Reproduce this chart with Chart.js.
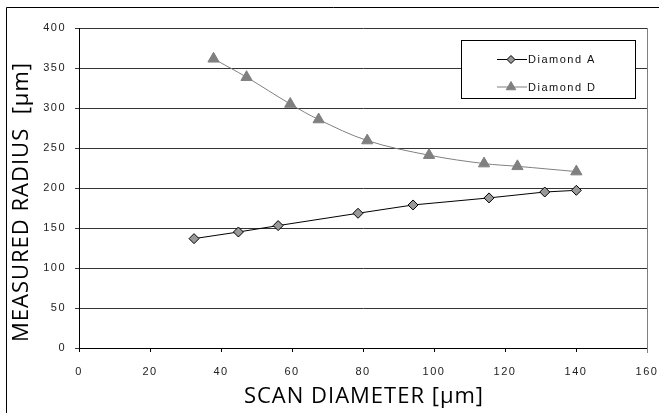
<!DOCTYPE html>
<html><head><meta charset="utf-8">
<script src="https://cdn.jsdelivr.net/npm/chart.js@4/dist/chart.umd.min.js"></script>
<style>html,body{margin:0;padding:0;background:#fff;}</style>
</head><body>
<canvas id="c" width="659" height="413" style="display:block"></canvas>
<script>
const seriesNames = ['Diamond A', 'Diamond D'];
const diamondA_x = [32.4, 44.9, 56.1, 78.6, 94.1, 115.5, 131.2, 140.1];
const diamondA_y = [136.7, 145, 153, 168.4, 178.8, 187.6, 195, 197.1];
const diamondD_x = [37.9, 47.2, 59.5, 67.5, 81.2, 98.6, 114.1, 123.5, 140.1];
const diamondD_y = [361.5, 338.5, 305, 285.6, 259.3, 241, 230.5, 227.1, 220.5];
const xTicks = [0, 20, 40, 60, 80, 100, 120, 140, 160];
const yTicks = [0, 50, 100, 150, 200, 250, 300, 350, 400];
const xTitle = 'SCAN DIAMETER [\u03bcm]';
const yTitle = 'MEASURED RADIUS  [\u03bcm]';

const toPts = (xs, ys) => xs.map((x, i) => ({x: x, y: ys[i]}));
const tickFont = {family: '"Liberation Sans", Arial, sans-serif', size: 11};

const framePlugin = {
  id: 'frame',
  beforeDraw(chart) { chart.ctx.letterSpacing = '1.5px'; },
  beforeDatasetsDraw(chart) {
    const ctx = chart.ctx, a = chart.chartArea;
    ctx.save();
    ctx.strokeStyle = '#808080'; ctx.lineWidth = 1;
    ctx.beginPath();
    ctx.moveTo(Math.round(a.right) + 0.5, a.top);
    ctx.lineTo(Math.round(a.right) + 0.5, a.bottom + 5);
    ctx.stroke();
    ctx.restore();
  },
  afterDraw(chart) {
    const ctx = chart.ctx, a = chart.chartArea;
    ctx.save();
    ctx.letterSpacing = '0px';
    ctx.strokeStyle = '#000'; ctx.lineWidth = 1;
    ctx.beginPath();
    ctx.moveTo(6.5, 420); ctx.lineTo(6.5, 7.5); ctx.lineTo(670, 7.5);
    ctx.stroke();
    // legend
    const lx = 461.5, ly = 40.5, lw = 174, lh = 58;
    ctx.fillStyle = '#fff';
    ctx.fillRect(lx, ly, lw, lh);
    ctx.strokeStyle = '#000';
    ctx.strokeRect(lx, ly, lw, lh);
    const rows = [
      {y: 59, line: '#000', fill: '#999999', stroke: '#000', style: 'rectRot', r: 4},
      {y: 86.5, line: '#808080', fill: '#808080', stroke: '#808080', style: 'triangle', r: 5.5}
    ];
    rows.forEach((r, i) => {
      ctx.letterSpacing = '0px';
      ctx.strokeStyle = r.line; ctx.lineWidth = 1;
      ctx.beginPath(); ctx.moveTo(497, r.y + 0.5); ctx.lineTo(527, r.y + 0.5); ctx.stroke();
      ctx.fillStyle = r.fill; ctx.strokeStyle = r.stroke;
      Chart.helpers.drawPoint(ctx, {pointStyle: r.style, radius: r.r, borderWidth: 1, rotation: 0}, 511, r.y + 0.5);
      ctx.letterSpacing = '1.5px';
      ctx.fillStyle = '#111';
      ctx.font = '11px "Liberation Sans", Arial, sans-serif';
      ctx.textBaseline = 'middle'; ctx.textAlign = 'left';
      ctx.fillText(seriesNames[i], 528, r.y + 1);
    });
    // axis titles
    ctx.letterSpacing = '1px';
    ctx.fillStyle = '#000';
    ctx.font = '22px "Open Sans", sans-serif';
    ctx.textAlign = 'center'; ctx.textBaseline = 'middle';
    ctx.fillText(xTitle, (a.left + a.right) / 2 + 1, 397);
    ctx.translate(22, 202);
    ctx.rotate(-Math.PI / 2);
    ctx.fillText(yTitle, 0, 0);
    ctx.restore();
  }
};

new Chart(document.getElementById('c'), {
  type: 'scatter',
  data: {
    datasets: [
      {
        label: seriesNames[0],
        data: toPts(diamondA_x, diamondA_y),
        showLine: true,
        borderColor: '#000',
        borderWidth: 1,
        tension: 0,
        pointStyle: 'rectRot',
        pointRadius: 5,
        pointBackgroundColor: '#999999',
        pointBorderColor: '#000',
        pointBorderWidth: 1
      },
      {
        label: seriesNames[1],
        data: toPts(diamondD_x, diamondD_y),
        showLine: true,
        borderColor: '#808080',
        borderWidth: 1,
        tension: 0.35,
        pointStyle: 'triangle',
        pointRadius: 6.5,
        pointBackgroundColor: '#808080',
        pointBorderColor: '#808080',
        pointBorderWidth: 1
      }
    ]
  },
  options: {
    responsive: false,
    devicePixelRatio: 1,
    animation: false,
    layout: {padding: {left: 0, top: 28, right: 12, bottom: 0}},
    plugins: {legend: {display: false}, tooltip: {enabled: false}},
    scales: {
      x: {
        type: 'linear', min: 0, max: 160,
        afterBuildTicks: s => { s.ticks = xTicks.map(v => ({value: v})); },
        afterFit: s => { s.height = 65; s.paddingRight = 0; s.paddingLeft = 0; },
        ticks: {font: tickFont, color: '#222', padding: 13, maxRotation: 0},
        grid: {drawOnChartArea: false, drawTicks: true, tickLength: 4, color: '#000'},
        border: {display: true, color: '#000', width: 1}
      },
      y: {
        type: 'linear', min: 0, max: 400,
        afterBuildTicks: s => { s.ticks = yTicks.map(v => ({value: v})); },
        afterFit: s => { s.width = 79; s.paddingTop = 0; s.paddingBottom = 0; },
        ticks: {font: tickFont, color: '#222', padding: 9},
        grid: {color: '#333', lineWidth: 1, drawTicks: true, tickLength: 4},
        border: {display: true, color: '#000', width: 1}
      }
    }
  },
  plugins: [framePlugin]
});
</script>
</body></html>
